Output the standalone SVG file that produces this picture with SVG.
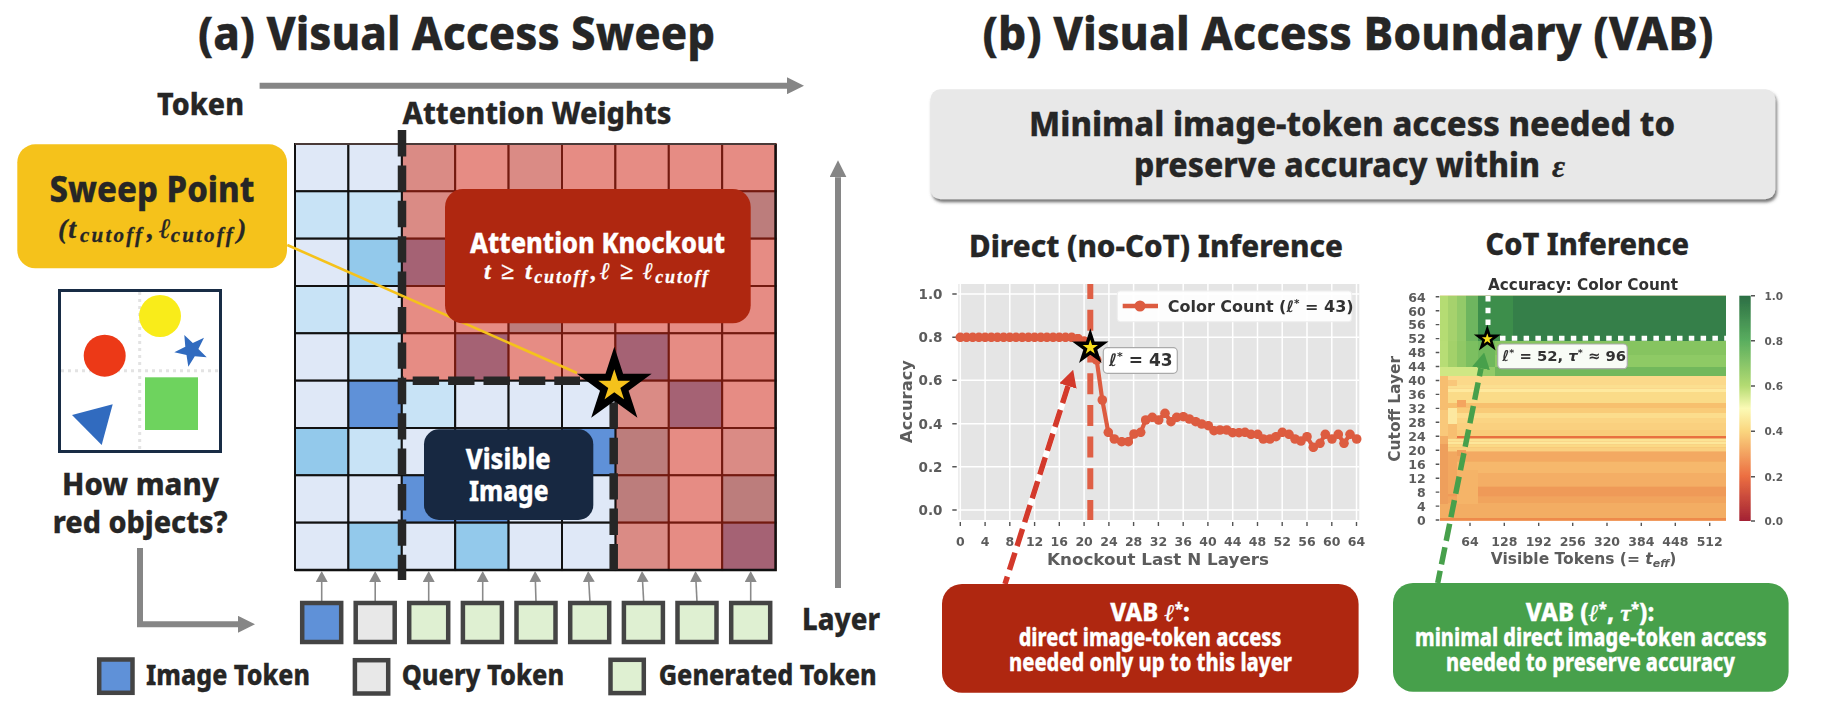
<svg xmlns="http://www.w3.org/2000/svg" width="1821" height="703" viewBox="0 0 1821 703">
<style>
  text { font-family: "Noto Sans", "Open Sans", sans-serif; font-weight: 800; fill: #262626; stroke: #262626; stroke-width: .3; }
  .math, .math tspan { font-family: "Liberation Serif", "DejaVu Serif", serif; font-style: italic; font-weight: 700; }
  .wh { fill: #fff; stroke: #fff; }
  .c { width: 53.4px; height: 47.33px; stroke-width: 2; }
  .L { fill: #DFE8F7; stroke: #111; } .M { fill: #C8E3F6; stroke: #111; }
  .B { fill: #93C9EB; stroke: #111; } .S { fill: #5F91D8; stroke: #111; }
  .R { fill: #E68C84; stroke: #731A10; } .D { fill: #DA8B85; stroke: #731A10; }
  .T { fill: #BC7D7C; stroke: #731A10; } .P { fill: #A56274; stroke: #731A10; }
  .dash { fill: none; stroke: #262626; stroke-width: 8.5; stroke-dasharray: 26.4 9; }
  .tok { width: 39px; height: 39px; stroke: #444; stroke-width: 4.5; }
  .key { width: 33.3px; height: 33.3px; stroke: #444; stroke-width: 4.5; }
  .img { fill: #5F91D8; } .qry { fill: #E8E8E8; } .gen { fill: #DFF0D2; }
  .big { fill: none; stroke: #868686; stroke-width: 6; }
  .thin { fill: none; stroke: #8A8A8A; stroke-width: 1.6; marker-end: url(#head-small); }
  .ax, .ax tspan { font-family: "DejaVu Sans", sans-serif; font-weight: 700; fill: #5C5C5C; stroke: none; }
  .dk, .dk tspan { font-family: "DejaVu Sans", sans-serif; font-weight: 700; fill: #333; stroke: none; }
  .it { font-family: "DejaVu Serif", serif; font-style: italic; }
  .tick { stroke: #555; stroke-width: 1.4; fill: none; }
</style>
<defs>
  <polygon id="star" points="0,-1 .2245,-.309 .951,-.309 .363,.118 .588,.809 0,.382 -.588,.809 -.363,.118 -.951,-.309 -.2245,-.309"/>
  <marker id="head-big" markerUnits="userSpaceOnUse" markerWidth="17" markerHeight="17" refX="0" refY="8.5" orient="auto"><path d="M0 0L17 8.5L0 17z" fill="#868686"/></marker>
  <marker id="head-small" markerUnits="userSpaceOnUse" markerWidth="11" markerHeight="12" refX="0" refY="6" orient="auto"><path d="M0 0L11 6L0 12z" fill="#8A8A8A"/></marker>
  <marker id="head-red" markerUnits="userSpaceOnUse" markerWidth="17" markerHeight="18" refX="0" refY="9" orient="auto"><path d="M0 0L17 9L0 18z" fill="#D3392B"/></marker>
  <marker id="head-green" markerUnits="userSpaceOnUse" markerWidth="16" markerHeight="18" refX="0" refY="9" orient="auto"><path d="M0 0L16 9L0 18z" fill="#47A04B"/></marker>
  <marker id="dot" markerUnits="userSpaceOnUse" markerWidth="10" markerHeight="10" refX="5" refY="5"><circle cx="5" cy="5" r="4.8" fill="#DD5B41"/></marker>
  <linearGradient id="rdylgn" x1="0" y1="0" x2="0" y2="1">
    <stop offset="0" stop-color="#2B6E44"/><stop offset=".2" stop-color="#5AAE5F"/><stop offset=".4" stop-color="#B4DB72"/>
    <stop offset=".5" stop-color="#FBFAB5"/><stop offset=".6" stop-color="#FAD67F"/><stop offset=".8" stop-color="#EC6F42"/><stop offset="1" stop-color="#A32234"/>
  </linearGradient>
  <filter id="soft" x="-5%" y="-5%" width="110%" height="110%"><feGaussianBlur stdDeviation="0.7"/></filter>
  <filter id="lift" x="-2%" y="-5%" width="104%" height="115%"><feDropShadow dx="1.5" dy="3" stdDeviation="1.5" flood-color="#555" flood-opacity=".8"/></filter>
</defs>
<rect width="1821" height="703" fill="#fff"/>

<text id="title-a" x="198" y="50" font-size="47" textLength="517" lengthAdjust="spacingAndGlyphs">(a) Visual Access Sweep</text>
<text id="title-b" x="982.5" y="50" font-size="47" textLength="731" lengthAdjust="spacingAndGlyphs">(b) Visual Access Boundary (VAB)</text>
<text id="label-token" x="157" y="115" font-size="30" textLength="87" lengthAdjust="spacingAndGlyphs">Token</text>
<text id="label-attn" x="402.5" y="123.5" font-size="30" textLength="269" lengthAdjust="spacingAndGlyphs">Attention Weights</text>
<text id="label-layer" x="802" y="630" font-size="31" textLength="78" lengthAdjust="spacingAndGlyphs">Layer</text>

<!-- attention weight grid, 9 x 9 -->
<g id="attention-grid">
  <rect class="c D" x="401.8" y="144"/><rect class="c R" x="455.2" y="144"/><rect class="c D" x="508.6" y="144"/><rect class="c R" x="562" y="144"/><rect class="c R" x="615.4" y="144"/><rect class="c R" x="668.8" y="144"/><rect class="c R" x="722.2" y="144"/>
  <rect class="c D" x="401.8" y="191.3"/><rect class="c R" x="455.2" y="191.3"/><rect class="c R" x="508.6" y="191.3"/><rect class="c R" x="562" y="191.3"/><rect class="c R" x="615.4" y="191.3"/><rect class="c R" x="668.8" y="191.3"/><rect class="c T" x="722.2" y="191.3"/>
  <rect class="c P" x="401.8" y="238.7"/><rect class="c R" x="455.2" y="238.7"/><rect class="c R" x="508.6" y="238.7"/><rect class="c R" x="562" y="238.7"/><rect class="c R" x="615.4" y="238.7"/><rect class="c R" x="668.8" y="238.7"/><rect class="c R" x="722.2" y="238.7"/>
  <rect class="c R" x="401.8" y="286"/><rect class="c R" x="455.2" y="286"/><rect class="c T" x="508.6" y="286"/><rect class="c D" x="562" y="286"/><rect class="c R" x="615.4" y="286"/><rect class="c R" x="668.8" y="286"/><rect class="c R" x="722.2" y="286"/>
  <rect class="c R" x="401.8" y="333.3"/><rect class="c P" x="455.2" y="333.3"/><rect class="c R" x="508.6" y="333.3"/><rect class="c R" x="562" y="333.3"/><rect class="c P" x="615.4" y="333.3"/><rect class="c R" x="668.8" y="333.3"/><rect class="c R" x="722.2" y="333.3"/>
  <rect class="c D" x="615.4" y="380.7"/><rect class="c P" x="668.8" y="380.7"/><rect class="c R" x="722.2" y="380.7"/>
  <rect class="c T" x="615.4" y="428"/><rect class="c R" x="668.8" y="428"/><rect class="c D" x="722.2" y="428"/>
  <rect class="c T" x="615.4" y="475.3"/><rect class="c R" x="668.8" y="475.3"/><rect class="c T" x="722.2" y="475.3"/>
  <rect class="c D" x="615.4" y="522.7"/><rect class="c R" x="668.8" y="522.7"/><rect class="c P" x="722.2" y="522.7"/>

  <rect class="c L" x="295" y="144"/><rect class="c L" x="348.4" y="144"/>
  <rect class="c M" x="295" y="191.3"/><rect class="c M" x="348.4" y="191.3"/>
  <rect class="c L" x="295" y="238.7"/><rect class="c B" x="348.4" y="238.7"/>
  <rect class="c M" x="295" y="286"/><rect class="c L" x="348.4" y="286"/>
  <rect class="c L" x="295" y="333.3"/><rect class="c M" x="348.4" y="333.3"/>
  <rect class="c L" x="295" y="380.7"/><rect class="c S" x="348.4" y="380.7"/><rect class="c M" x="401.8" y="380.7"/><rect class="c L" x="455.2" y="380.7"/><rect class="c L" x="508.6" y="380.7"/><rect class="c L" x="562" y="380.7"/>
  <rect class="c B" x="295" y="428"/><rect class="c M" x="348.4" y="428"/><rect class="c L" x="401.8" y="428"/><rect class="c L" x="455.2" y="428"/><rect class="c L" x="508.6" y="428"/><rect class="c S" x="562" y="428"/>
  <rect class="c L" x="295" y="475.3"/><rect class="c L" x="348.4" y="475.3"/><rect class="c S" x="401.8" y="475.3"/><rect class="c S" x="455.2" y="475.3"/><rect class="c L" x="508.6" y="475.3"/><rect class="c L" x="562" y="475.3"/>
  <rect class="c L" x="295" y="522.7"/><rect class="c B" x="348.4" y="522.7"/><rect class="c L" x="401.8" y="522.7"/><rect class="c B" x="455.2" y="522.7"/><rect class="c L" x="508.6" y="522.7"/><rect class="c L" x="562" y="522.7"/>
  <path d="M295 570H775.6V144" fill="none" stroke="#111" stroke-width="2.4"/>
  <path d="M295 144H775.6" fill="none" stroke="#4a3a38" stroke-width="2"/>
</g>

<!-- cutoff boundaries -->
<g id="cutoff-lines">
  <path class="dash" d="M402 130V580"/>
  <path class="dash" d="M402 380.7H580" stroke-dashoffset="24.7"/>
  <path class="dash" d="M613.7 380V570" stroke-dashoffset="13"/>
</g>

<!-- line plot: accuracy against knocked-out layers -->
<g id="chart-direct" filter="url(#soft)">
  <rect x="958.3" y="284" width="401" height="236" fill="#E5E5E5"/>
  <path fill="none" stroke="#fff" stroke-width="1.5" d="M960.3 284V520M985.1 284V520M1009.8 284V520M1034.6 284V520M1059.3 284V520M1084.1 284V520M1108.9 284V520M1133.6 284V520M1158.4 284V520M1183.2 284V520M1207.9 284V520M1232.7 284V520M1257.5 284V520M1282.2 284V520M1307 284V520M1331.8 284V520M1356.5 284V520M958.3 294H1359.3M958.3 337.3H1359.3M958.3 380.3H1359.3M958.3 423.7H1359.3M958.3 466.7H1359.3M958.3 510H1359.3"/>
  <path class="tick" d="M952.3 294H956.7M952.3 337.3H956.7M952.3 380.3H956.7M952.3 423.7H956.7M952.3 466.7H956.7M952.3 510H956.7M960.3 522V526M985.1 522V526M1009.8 522V526M1034.6 522V526M1059.3 522V526M1084.1 522V526M1108.9 522V526M1133.6 522V526M1158.4 522V526M1183.2 522V526M1207.9 522V526M1232.7 522V526M1257.5 522V526M1282.2 522V526M1307 522V526M1331.8 522V526M1356.5 522V526"/>
  <g font-size="13.5" text-anchor="end">
    <text class="ax" x="942.5" y="299">1.0</text><text class="ax" x="942.5" y="342.3">0.8</text><text class="ax" x="942.5" y="385.3">0.6</text><text class="ax" x="942.5" y="428.7">0.4</text><text class="ax" x="942.5" y="471.7">0.2</text><text class="ax" x="942.5" y="515">0.0</text>
  </g>
  <g font-size="12.5" text-anchor="middle">
    <text class="ax" x="960.3" y="546">0</text><text class="ax" x="985.1" y="546">4</text><text class="ax" x="1009.8" y="546">8</text><text class="ax" x="1034.6" y="546">12</text><text class="ax" x="1059.3" y="546">16</text><text class="ax" x="1084.1" y="546">20</text><text class="ax" x="1108.9" y="546">24</text><text class="ax" x="1133.6" y="546">28</text><text class="ax" x="1158.4" y="546">32</text><text class="ax" x="1183.2" y="546">36</text><text class="ax" x="1207.9" y="546">40</text><text class="ax" x="1232.7" y="546">44</text><text class="ax" x="1257.5" y="546">48</text><text class="ax" x="1282.2" y="546">52</text><text class="ax" x="1307" y="546">56</text><text class="ax" x="1331.8" y="546">60</text><text class="ax" x="1356.5" y="546">64</text>
  </g>
  <text class="ax" x="1047" y="564.5" font-size="15.5" textLength="222" lengthAdjust="spacingAndGlyphs">Knockout Last N Layers</text>
  <text class="ax" transform="translate(911.5 443) rotate(-90)" font-size="15.5" textLength="83" lengthAdjust="spacingAndGlyphs">Accuracy</text>
  <path d="M1090.3 284V520" fill="none" stroke="#DF5F45" stroke-width="6" stroke-dasharray="21 10.7" stroke-dashoffset="5.9"/>
  <polyline fill="none" stroke="#DD5B41" stroke-width="4.2" stroke-linejoin="round" marker-start="url(#dot)" marker-mid="url(#dot)" marker-end="url(#dot)" points="960.3,337.3 966.5,337.3 972.7,337.3 978.9,337.3 985.1,337.3 991.3,337.3 997.4,337.3 1003.6,337.3 1009.8,337.3 1016,337.3 1022.2,337.3 1028.4,337.3 1034.6,337.3 1040.8,337.3 1046.9,337.3 1053.1,337.3 1059.3,337.3 1065.5,337.3 1071.7,337.3 1077.9,338.5 1084.1,341 1090.3,347.3 1096.7,360 1102.3,400 1108.3,432.3 1114.3,439 1121.7,441.7 1128.3,441.7 1134,434 1140.7,432.3 1145.7,420 1152.3,417.3 1158.7,420 1165,413.3 1171,421.7 1176.7,417.3 1183.3,416.7 1189.3,419 1195.7,421.7 1201.7,424 1208.3,425.7 1214,430.7 1220,430 1226.7,430 1232.7,432.7 1239,432.7 1245,432.3 1251,434.3 1257.7,434.3 1263.3,439 1270,439 1276,436.7 1282.3,432.3 1289,434.3 1295,439 1301,441 1307,436.7 1313.3,447.3 1320,443.3 1325.3,434.3 1332,439 1338.3,434.3 1344,443.3 1350,434.3 1356.7,439"/>
  <rect x="1117.3" y="291" width="234.4" height="30.7" rx="3" fill="#fff" fill-opacity=".92" stroke="#eee"/>
  <path d="M1122.7 306H1158" stroke="#DD5B41" stroke-width="4.5"/><circle cx="1140" cy="306" r="5.5" fill="#DD5B41"/>
  <text class="dk" x="1167.7" y="311.7" font-size="16">Color Count (<tspan class="it">ℓ</tspan><tspan font-size="10.5" dy="-5">*</tspan><tspan dy="5"> = 43)</tspan></text>
  <use href="#star" transform="translate(1090.3 347.5) scale(13.5)" fill="#F9DF1C" stroke="#000" stroke-width=".26" stroke-miterlimit="10"/>
  <rect x="1103.3" y="347.7" width="74" height="25.6" rx="4" fill="#fff" stroke="#AAA" stroke-width="1.2"/>
  <text class="dk" x="1109" y="366" font-size="17"><tspan class="it">ℓ</tspan><tspan font-size="11" dy="-6">*</tspan><tspan dy="6"> = 43</tspan></text>
</g>

<!-- heatmap: accuracy by cutoff layer and visible tokens -->
<g id="chart-cot" filter="url(#soft)">
  <rect x="1440" y="295.7" width="286" height="225" fill="#F3AD64"/>
  <g id="heat-rows">
    <rect x="1513" y="295.7" width="213" height="45.3" fill="#347F48"/>
    <rect x="1478" y="295.7" width="35" height="45.3" fill="#3E8E4C"/>
    <rect x="1466" y="295.7" width="12" height="45.3" fill="#6EB55F"/>
    <rect x="1457" y="295.7" width="9" height="45.3" fill="#93CA69"/>
    <rect x="1448" y="295.7" width="9" height="45.3" fill="#A6D26D"/>
    <rect x="1440" y="295.7" width="8" height="45.3" fill="#B5DC73"/>
    <rect x="1495" y="341" width="231" height="14" fill="#86C461"/>
    <rect x="1495" y="355" width="231" height="12" fill="#8ECA65"/>
    <rect x="1495" y="367" width="231" height="9" fill="#72B85B"/>
    <rect x="1478" y="341" width="17" height="26" fill="#70B85C"/>
    <rect x="1466" y="341" width="12" height="26" fill="#7CBF60"/>
    <rect x="1457" y="341" width="9" height="26" fill="#90C865"/>
    <rect x="1448" y="341" width="9" height="26" fill="#A3D16B"/>
    <rect x="1440" y="341" width="8" height="26" fill="#B7DD75"/>
    <rect x="1478" y="367" width="17" height="9" fill="#92CB68"/>
    <rect x="1440" y="367" width="38" height="9" fill="#CFE784"/>
    <rect x="1440" y="376" width="286" height="9" fill="#FBD98A"/>
    <rect x="1440" y="385" width="286" height="3.5" fill="#FBDF90"/>
    <rect x="1440" y="388.5" width="286" height="3.5" fill="#FEE99E"/>
    <rect x="1440" y="392" width="286" height="11" fill="#FADB88"/>
    <rect x="1440" y="403" width="286" height="5" fill="#F7C06E"/>
    <rect x="1440" y="408" width="286" height="5" fill="#F9CB78"/>
    <rect x="1440" y="413" width="286" height="5" fill="#FCDD8D"/>
    <rect x="1440" y="418" width="286" height="5" fill="#FBD483"/>
    <rect x="1440" y="423" width="286" height="7" fill="#FAD07F"/>
    <rect x="1440" y="430" width="286" height="6" fill="#F9CC7A"/>
    <rect x="1440" y="436" width="286" height="1.6" fill="#F3AE66"/>
    <rect x="1456.5" y="436" width="269.5" height="2.6" fill="#E86F3F"/>
    <rect x="1440" y="438.6" width="286" height="3" fill="#FCE394"/>
    <rect x="1440" y="441.6" width="286" height="3" fill="#FDE79A"/>
    <rect x="1440" y="444.6" width="286" height="3" fill="#FBD985"/>
    <rect x="1440" y="447.6" width="286" height="4" fill="#FAD080"/>
    <rect x="1440" y="451.7" width="286" height="10" fill="#F3A962"/>
    <rect x="1440" y="461.7" width="286" height="11.3" fill="#F6B86C"/>
    <rect x="1440" y="473" width="286" height="13.7" fill="#F4AE65"/>
    <rect x="1440" y="486.7" width="286" height="10" fill="#EF9A58"/>
    <rect x="1440" y="496.7" width="286" height="6.3" fill="#F1A45D"/>
    <rect x="1440" y="503" width="286" height="15" fill="#F3AD64"/>
    <rect x="1440" y="518" width="286" height="2.7" fill="#EE8A4C"/>
    <!-- low-token columns -->
    <rect x="1440" y="376" width="8" height="34" fill="#F7BE70"/>
    <rect x="1440" y="410" width="8" height="26" fill="#F9C87A"/>
    <rect x="1440" y="436" width="8" height="8" fill="#F3AE66"/>
    <rect x="1440" y="444" width="8" height="60" fill="#EE9F5B"/>
    <rect x="1448" y="380" width="9" height="6" fill="#F9C77A"/>
    <rect x="1448" y="408" width="9" height="16" fill="#FCE8A0"/>
    <rect x="1448" y="424" width="9" height="14" fill="#F7BE70"/>
    <rect x="1448" y="452" width="9" height="42" fill="#F2A860"/>
    <rect x="1457" y="400" width="9" height="7" fill="#F4A45F"/>
    <rect x="1457" y="450" width="9" height="6" fill="#EF9F5A"/>
    <rect x="1457" y="470" width="21" height="34" fill="#F5B468"/>
  </g>
  <path d="M1500 338.3H1726" fill="none" stroke="#fff" stroke-width="5" stroke-dasharray="5.5 6.3"/>
  <path d="M1488 296V326" fill="none" stroke="#fff" stroke-width="5" stroke-dasharray="5.5 6.3"/>
  <use href="#star" transform="translate(1487.3 339) scale(10)" fill="#F9DF1C" stroke="#000" stroke-width=".26" stroke-miterlimit="10"/>
  <rect x="1497.7" y="344" width="129.6" height="24.7" rx="4" fill="#fff" fill-opacity=".94" stroke="#AAA" stroke-width="1.2"/>
  <text class="dk" x="1502.3" y="361" font-size="14.8"><tspan class="it">ℓ</tspan><tspan font-size="9.5" dy="-5">*</tspan><tspan dy="5"> = 52,  </tspan><tspan class="it">τ</tspan><tspan font-size="9.5" dy="-5">*</tspan><tspan dy="5"> ≈ 96</tspan></text>
  <text class="dk" x="1488" y="290" font-size="15.5" textLength="190" lengthAdjust="spacingAndGlyphs">Accuracy: Color Count</text>
  <path class="tick" d="M1435.7 296.7H1439.3M1435.7 310.7H1439.3M1435.7 324.6H1439.3M1435.7 338.6H1439.3M1435.7 352.5H1439.3M1435.7 366.5H1439.3M1435.7 380.5H1439.3M1435.7 394.4H1439.3M1435.7 408.4H1439.3M1435.7 422.3H1439.3M1435.7 436.3H1439.3M1435.7 450.3H1439.3M1435.7 464.2H1439.3M1435.7 478.2H1439.3M1435.7 492.1H1439.3M1435.7 506.1H1439.3M1435.7 520H1439.3M1470 522.7V526M1504.3 522.7V526M1538.7 522.7V526M1572.7 522.7V526M1607 522.7V526M1641.3 522.7V526M1675.3 522.7V526M1709.7 522.7V526M1751 295.7H1755M1751 340.7H1755M1751 386H1755M1751 431.3H1755M1751 476.7H1755M1751 521H1755"/>
  <g font-size="12.5" text-anchor="end">
    <text class="ax" x="1425.7" y="301.5">64</text><text class="ax" x="1425.7" y="315.5">60</text><text class="ax" x="1425.7" y="329.4">56</text><text class="ax" x="1425.7" y="343.4">52</text><text class="ax" x="1425.7" y="357.3">48</text><text class="ax" x="1425.7" y="371.3">44</text><text class="ax" x="1425.7" y="385.3">40</text><text class="ax" x="1425.7" y="399.2">36</text><text class="ax" x="1425.7" y="413.2">32</text><text class="ax" x="1425.7" y="427.1">28</text><text class="ax" x="1425.7" y="441.1">24</text><text class="ax" x="1425.7" y="455.1">20</text><text class="ax" x="1425.7" y="469">16</text><text class="ax" x="1425.7" y="483">12</text><text class="ax" x="1425.7" y="496.9">8</text><text class="ax" x="1425.7" y="510.9">4</text><text class="ax" x="1425.7" y="524.8">0</text>
  </g>
  <g font-size="12.5" text-anchor="middle">
    <text class="ax" x="1470" y="545.8">64</text><text class="ax" x="1504.3" y="545.8">128</text><text class="ax" x="1538.7" y="545.8">192</text><text class="ax" x="1572.7" y="545.8">256</text><text class="ax" x="1607" y="545.8">320</text><text class="ax" x="1641.3" y="545.8">384</text><text class="ax" x="1675.3" y="545.8">448</text><text class="ax" x="1709.7" y="545.8">512</text>
  </g>
  <text class="ax" x="1490.7" y="564" font-size="15.5">Visible Tokens (= <tspan class="it">t</tspan><tspan class="it" font-size="11" dy="3">eff</tspan><tspan dy="-3">)</tspan></text>
  <text class="ax" transform="translate(1399.5 461.7) rotate(-90)" font-size="15.5" textLength="105.7" lengthAdjust="spacingAndGlyphs">Cutoff Layer</text>
  <rect x="1739.3" y="295.7" width="11.4" height="225.3" fill="url(#rdylgn)"/>
  <g font-size="10.5">
    <text class="ax" x="1764.5" y="299.5">1.0</text><text class="ax" x="1764.5" y="344.5">0.8</text><text class="ax" x="1764.5" y="390">0.6</text><text class="ax" x="1764.5" y="435.3">0.4</text><text class="ax" x="1764.5" y="480.7">0.2</text><text class="ax" x="1764.5" y="525">0.0</text>
  </g>
</g>

<!-- connectors -->
<g id="connectors">
  <path class="big" d="M259.6 85.7H787" marker-end="url(#head-big)"/>
  <path class="big" d="M838 588V177.3" marker-end="url(#head-big)"/>
  <path class="big" d="M140 548V624.3H238" marker-end="url(#head-big)"/>
  <path d="M287.3 245L577 373" fill="none" stroke="#F5C21B" stroke-width="2.6"/>
  <path class="thin" d="M321.7 602V582"/><path class="thin" d="M375.2 602V582"/><path class="thin" d="M428.7 602V582"/>
  <path class="thin" d="M482.7 602V582"/><path class="thin" d="M536 602L535.4 582"/><path class="thin" d="M590 602L588.8 582"/><path class="thin" d="M643.7 602L642.6 582"/><path class="thin" d="M697 602L696 582"/><path class="thin" d="M750.7 602V582"/>
  <path d="M1005 584L1068 386" fill="none" stroke="#fff" stroke-width="6"/>
  <path d="M1005 584L1068 386" fill="none" stroke="#D3392B" stroke-width="5.5" stroke-dasharray="18 7" stroke-dashoffset="10.2" marker-end="url(#head-red)"/>
  <path d="M1437.7 583L1481 368.3" fill="none" stroke="#47A04B" stroke-width="5.5" stroke-dasharray="17.5 6.5" stroke-dashoffset="5" marker-end="url(#head-green)"/>
</g>

<g id="sweep-star">
  <use href="#star" transform="translate(614.3 386) scale(28)" fill="#F5C21B" stroke="#000" stroke-width=".25" stroke-miterlimit="10"/>
</g>

<g id="sweep-point">
  <rect x="17.3" y="144.3" width="269.7" height="124" rx="18" fill="#F5C21B"/>
  <text x="49.5" y="202" font-size="36" textLength="205" lengthAdjust="spacingAndGlyphs">Sweep Point</text>
  <text class="math" y="238" font-size="28"><tspan x="58">(</tspan><tspan x="68.3">t</tspan><tspan x="80" font-size="21" dy="4" letter-spacing="2.2">cutoff</tspan><tspan x="147" dy="-4">,</tspan><tspan x="159">ℓ</tspan><tspan x="170.7" font-size="21" dy="4" letter-spacing="2.2">cutoff</tspan><tspan x="237" dy="-4">)</tspan></text>
</g>

<g id="knockout">
  <rect x="445" y="189" width="305.7" height="134.3" rx="18" fill="#AF2710"/>
  <text class="wh" x="470" y="252.7" font-size="28" textLength="255" lengthAdjust="spacingAndGlyphs">Attention Knockout</text>
  <text class="math wh" y="279" font-size="24"><tspan x="484">t</tspan><tspan x="501">≥</tspan><tspan x="525">t</tspan><tspan x="534.3" font-size="18" dy="4" letter-spacing="1.8">cutoff</tspan><tspan x="590.7" dy="-4">,</tspan><tspan x="600">ℓ</tspan><tspan x="620">≥</tspan><tspan x="643">ℓ</tspan><tspan x="655.3" font-size="18" dy="4" letter-spacing="1.8">cutoff</tspan></text>
</g>

<g id="visible-image">
  <rect x="424" y="429.3" width="169.3" height="90.7" rx="15" fill="#172841"/>
  <text class="wh" x="465.7" y="469" font-size="28" textLength="85" lengthAdjust="spacingAndGlyphs">Visible</text>
  <text class="wh" x="469" y="501" font-size="28" textLength="79.5" lengthAdjust="spacingAndGlyphs">Image</text>
</g>

<g id="input-image">
  <rect x="59.5" y="290.5" width="161" height="161" fill="#fff" stroke="#182C45" stroke-width="3"/>
  <path d="M139.7 292V450M61 370.7H219" fill="none" stroke="#E3E3E3" stroke-width="3" stroke-dasharray="3 4"/>
  <circle cx="160" cy="316" r="21" fill="#F9EC1A"/>
  <circle cx="104.7" cy="355.7" r="21" fill="#EC3917"/>
  <polygon points="184.3,335 192.8,343.1 204,337.7 198.4,348.9 206.7,357.3 194.8,356.2 188.3,366.7 186.5,354.9 174.3,352.3 185.3,346.7" fill="#316BBF"/>
  <polygon points="72,415 112.7,404.3 101.7,445" fill="#316BBF"/>
  <rect x="145" y="377.3" width="53" height="52.7" fill="#6ED35E"/>
</g>

<g id="question">
  <text x="62" y="495" font-size="31" textLength="157" lengthAdjust="spacingAndGlyphs">How many</text>
  <text x="52.7" y="533" font-size="31" textLength="175" lengthAdjust="spacingAndGlyphs">red objects?</text>
</g>

<g id="token-row">
  <rect id="token-0" class="tok img" x="302.2" y="603"/>
  <rect id="token-1" class="tok qry" x="355.7" y="603"/>
  <rect id="token-2" class="tok gen" x="409.2" y="603"/>
  <rect id="token-3" class="tok gen" x="462.9" y="603"/>
  <rect id="token-4" class="tok gen" x="516.5" y="603"/>
  <rect id="token-5" class="tok gen" x="570.2" y="603"/>
  <rect id="token-6" class="tok gen" x="623.9" y="603"/>
  <rect id="token-7" class="tok gen" x="677.5" y="603"/>
  <rect id="token-8" class="tok gen" x="731.2" y="603"/>
</g>

<g id="legend">
  <g id="legend-image"><rect class="key img" x="99.2" y="659.5"/><text x="146" y="685" font-size="28" textLength="164" lengthAdjust="spacingAndGlyphs">Image Token</text></g>
  <g id="legend-query"><rect class="key qry" x="354.9" y="660.2"/><text x="401.7" y="685" font-size="28" textLength="162.5" lengthAdjust="spacingAndGlyphs">Query Token</text></g>
  <g id="legend-generated"><rect class="key gen" x="610.5" y="659.8"/><text x="658.7" y="685" font-size="28" textLength="218" lengthAdjust="spacingAndGlyphs">Generated Token</text></g>
</g>

<g id="definition">
  <rect x="930.4" y="89.3" width="845" height="110" rx="10" fill="#E8E8E8" filter="url(#lift)"/>
  <text x="1029" y="136" font-size="34" textLength="646" lengthAdjust="spacingAndGlyphs">Minimal image-token access needed to</text>
  <text x="1134" y="177" font-size="34" textLength="406" lengthAdjust="spacingAndGlyphs">preserve accuracy within</text>
  <text class="math" x="1552" y="177" font-size="32">ε</text>
</g>
<text id="heading-direct" x="969" y="257" font-size="31" textLength="374" lengthAdjust="spacingAndGlyphs">Direct (no-CoT) Inference</text>
<text id="heading-cot" x="1485.5" y="255" font-size="31" textLength="203.5" lengthAdjust="spacingAndGlyphs">CoT Inference</text>

<g id="callout-direct">
  <rect x="942" y="584" width="416.6" height="108.7" rx="20" fill="#AF2710"/>
  <text class="wh" x="1150" y="621" font-size="24" text-anchor="middle">VAB <tspan class="math wh">ℓ</tspan><tspan class="wh" font-size="15" dy="-7">*</tspan><tspan class="wh" dy="7">:</tspan></text>
  <text class="wh" x="1018.7" y="646" font-size="24" textLength="262.8" lengthAdjust="spacingAndGlyphs">direct image-token access</text>
  <text class="wh" x="1009" y="671" font-size="24" textLength="283" lengthAdjust="spacingAndGlyphs">needed only up to this layer</text>
</g>

<g id="callout-cot">
  <rect x="1393" y="583" width="395.6" height="108.7" rx="20" fill="#47A04B"/>
  <text class="wh" x="1590" y="621" font-size="24" text-anchor="middle">VAB (<tspan class="math wh">ℓ</tspan><tspan class="wh" font-size="15" dy="-7">*</tspan><tspan class="wh" dy="7">, </tspan><tspan class="math wh">τ</tspan><tspan class="wh" font-size="15" dy="-7">*</tspan><tspan class="wh" dy="7">):</tspan></text>
  <text class="wh" x="1415" y="646" font-size="24" textLength="351.6" lengthAdjust="spacingAndGlyphs">minimal direct image-token access</text>
  <text class="wh" x="1446" y="671" font-size="24" textLength="289" lengthAdjust="spacingAndGlyphs">needed to preserve accuracy</text>
</g>
</svg>
